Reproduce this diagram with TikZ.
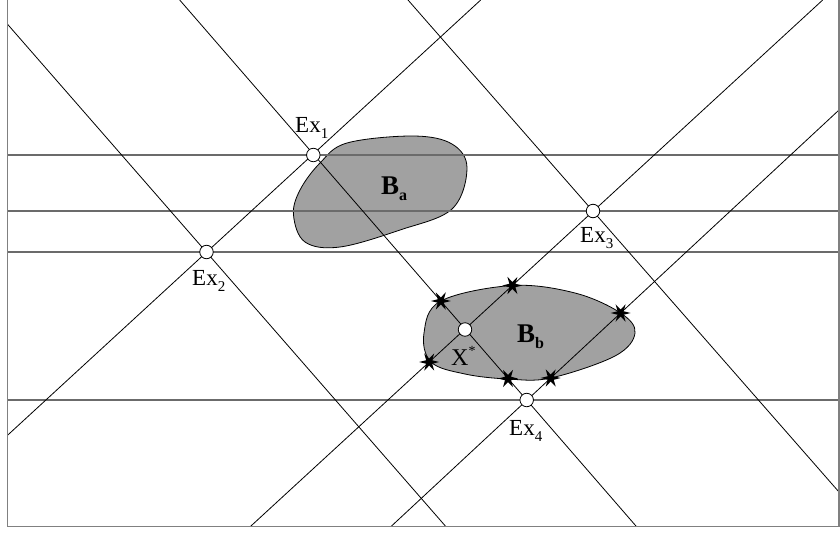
\documentclass[tikz,border=0pt]{standalone}
\usepackage{fontspec}
\setmainfont{Liberation Serif}
\usetikzlibrary{shapes.geometric}
\definecolor{hgray}{gray}{0.42}
\definecolor{framegray}{gray}{0.5}
\definecolor{blobgray}{gray}{0.63}
\newcommand\lsub[1]{\raisebox{-6pt}{\fontsize{15}{15}\selectfont #1}}
\newcommand\bsub[1]{\raisebox{-6pt}{\fontsize{16}{16}\selectfont\bfseries #1}}
\begin{document}
\begin{tikzpicture}[x=1pt,y=-1pt,
  hline/.style={draw=hgray,line width=1.6pt},
  dline/.style={draw=black,line width=0.8pt},
  frameline/.style={draw=framegray,line width=1.5pt},
  blob/.style={draw=black,line width=0.8pt,fill=blobgray},
  expt/.style={circle,draw=black,fill=white,line width=0.8pt,minimum size=13.5pt,inner sep=0pt},
  hit/.style={star,star points=6,star point ratio=0.35,fill=black,minimum size=7pt,inner sep=0pt},
  lbl/.style={inner sep=0pt,anchor=base west,font=\fontsize{23}{23}\selectfont},
  blbl/.style={inner sep=0pt,anchor=base west,font=\fontsize{27}{27}\selectfont\bfseries}]
\useasboundingbox (0,0) rectangle (840,533);
% frame
\coordinate (fTL) at (7.5,0);
\coordinate (fBL) at (7.5,526.5);
\coordinate (fBR) at (839,526.5);
\coordinate (fTR) at (839,0);
% blobs
\draw[blob] plot[smooth cycle,tension=0.6] coordinates {(293.5,215) (300,190) (320,163) (347,143) (413,136) (452,144) (467,168) (452,209) (400,230) (340,247) (305,242)};
\draw[blob] plot[smooth cycle,tension=0.6] coordinates {(424,333) (440.8,301) (512.4,285.5) (575,293) (620.6,313) (635,333) (615,356) (550.7,378) (508,379) (465,374) (431,362)};
% horizontal lines
\foreach \i/\y in {1/155,2/211,3/252,4/400}{
  \coordinate (h\i a) at (7.5,\y);
  \coordinate (h\i b) at (839,\y);
  \draw[hline] (h\i a) -- (h\i b);
}
% diagonal lines
\coordinate (LAa) at (179.7,0);   \coordinate (LAb) at (636.4,526.5);
\coordinate (LBa) at (7.5,24.2);  \coordinate (LBb) at (445.8,526.5);
\coordinate (LCa) at (408,0);     \coordinate (LCb) at (839,492);
\coordinate (L1a) at (480.7,0);   \coordinate (L1b) at (7.5,435.3);
\coordinate (L2a) at (822.7,0);   \coordinate (L2b) at (250.4,526.5);
\coordinate (L3a) at (839,110);   \coordinate (L3b) at (391,526.5);
\foreach \n in {LA,LB,LC,L1,L2,L3}{
  \draw[dline] (\n a) -- (\n b);
}
\draw[frameline] (fTL) -- (fBL) -- (fBR) -- (fTR);
% stars
\node[hit] (s1) at (440.8,301) {};
\node[hit] (s2) at (508,378.5) {};
\node[hit] (s3) at (512.4,285.5) {};
\node[hit] (s4) at (429.2,362) {};
\node[hit] (s5) at (620.6,313) {};
\node[hit] (s6) at (550.7,378) {};
% points
\node[expt] (ex1) at (313.3,155) {};
\node[expt] (ex2) at (206.5,252) {};
\node[expt] (ex3) at (593,211) {};
\node[expt] (ex4) at (526.7,400) {};
\node[expt] (xs) at (465,329.5) {};
% labels
\node[lbl] (tex1) at (295,132) {Ex\lsub{1}};
\node[lbl] (tex2) at (192,285) {Ex\lsub{2}};
\node[lbl] (tex3) at (580,242) {Ex\lsub{3}};
\node[lbl] (tex4) at (509,435) {Ex\lsub{4}};
\node[lbl,font=\fontsize{24}{24}\selectfont] (txs) at (451,365) {X\raisebox{10pt}{\fontsize{14}{14}\selectfont *}};
\node[blbl] (tba) at (381,194) {B\bsub{a}};
\node[blbl] (tbb) at (517,342) {B\bsub{b}};
\end{tikzpicture}
\end{document}
